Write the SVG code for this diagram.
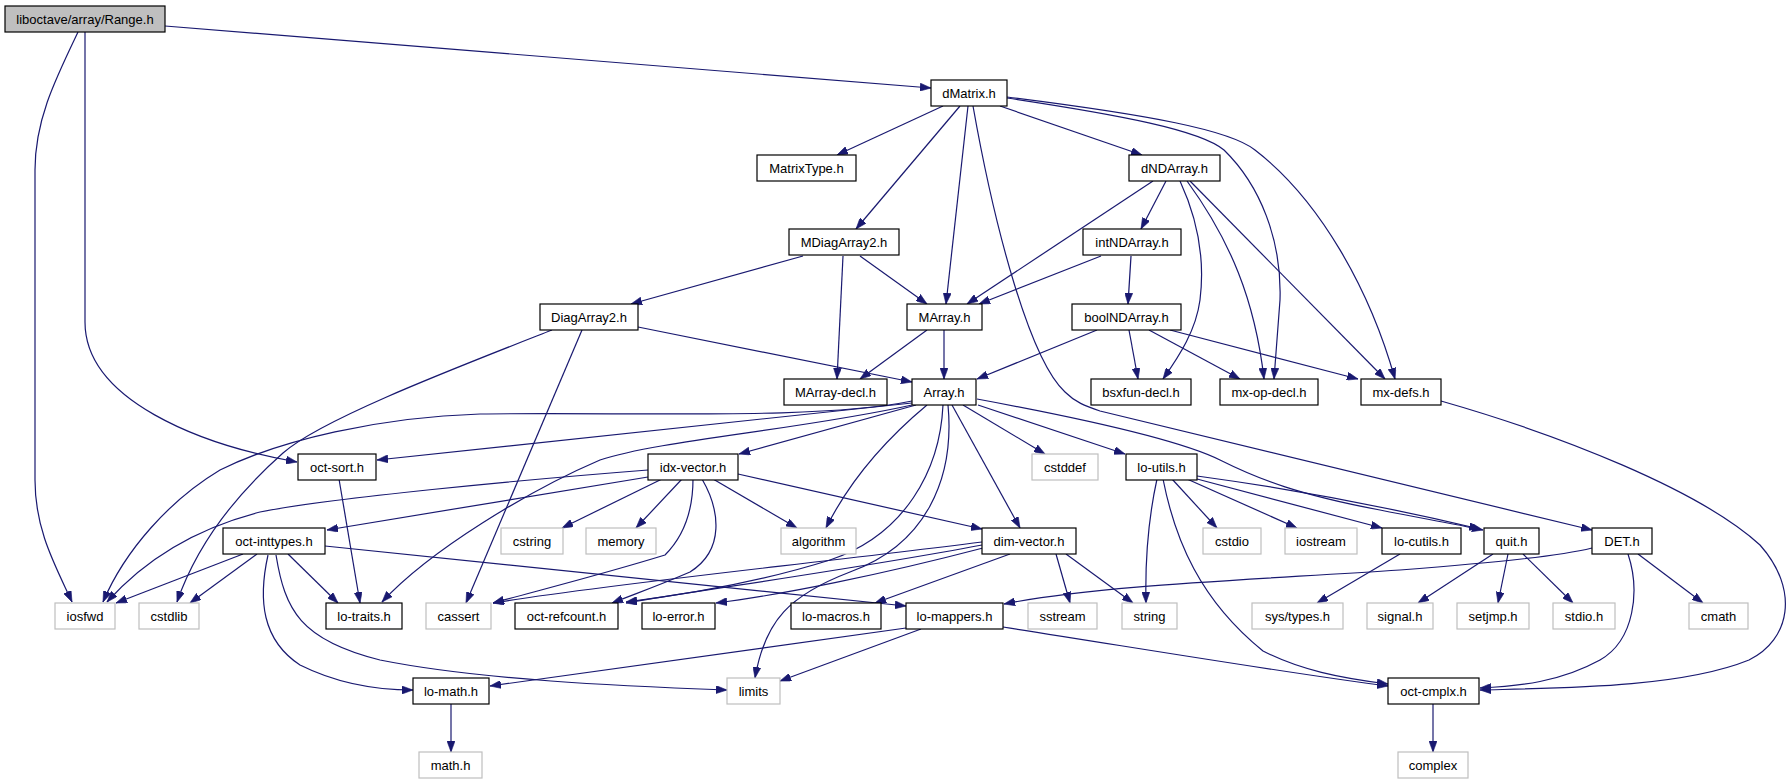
<svg xmlns="http://www.w3.org/2000/svg" width="1786" height="784" viewBox="0 0 1786 784">
<style>
.n rect{fill:#ffffff;stroke:#000000;stroke-width:1.2}
.g rect{fill:#ffffff;stroke:#bfbfbf;stroke-width:1.2}
.root rect{fill:#bfbfbf;stroke:#000000;stroke-width:1.2}
text{font-family:"Liberation Sans",Arial,Helvetica,sans-serif;font-size:13px;fill:#000000;text-anchor:middle}
#edges path{fill:none;stroke:#191970;stroke-width:1.2;marker-end:url(#ah)}
</style>
<defs>
<marker id="ah" markerUnits="userSpaceOnUse" markerWidth="11" markerHeight="8" refX="11" refY="4" orient="auto">
<path d="M0,0 L11,4 L0,8 z" fill="#191970" stroke="#191970" stroke-width="0.6"/>
</marker>
</defs>
<rect width="1786" height="784" fill="#ffffff"/>
<g id="edges">
<path d="M165,26 L931,88"/>
<path d="M85,32 L85,322 C85,400 200,445 297,462"/>
<path d="M78,32 C55,80 35,120 35,170 L35,480 C35,530 55,565 72,602"/>
<path d="M943,106 L837,155"/>
<path d="M960,106 L856,229"/>
<path d="M968,106 L946,304"/>
<path d="M973,106 C995,230 1030,360 1065,392 C1075,402 1085,406 1100,411 L1592,530"/>
<path d="M1000,106 L1142,155"/>
<path d="M1007,98 C1120,115 1200,130 1224,150 C1260,185 1282,240 1280,300 L1274,379"/>
<path d="M1007,97 C1150,115 1230,130 1255,150 C1320,200 1370,290 1395,379"/>
<path d="M1153,181 L967,304"/>
<path d="M1166,181 L1141,229"/>
<path d="M1180,181 C1198,220 1205,260 1200,300 C1196,330 1180,355 1163,379"/>
<path d="M1187,181 C1230,240 1255,300 1264,379"/>
<path d="M1190,181 L1385,379"/>
<path d="M803,256 L631,304"/>
<path d="M843,256 L837,379"/>
<path d="M860,256 L927,304"/>
<path d="M1101,256 L979,304"/>
<path d="M1131,256 L1128,304"/>
<path d="M638,327 L912,382"/>
<path d="M552,330 C450,370 320,420 283,453 C230,500 195,550 177,602"/>
<path d="M582,330 L466,603"/>
<path d="M927,330 L860,379"/>
<path d="M944,330 L944,379"/>
<path d="M1097,330 L977,379"/>
<path d="M1129,330 L1138,379"/>
<path d="M1149,330 L1240,379"/>
<path d="M1170,330 L1358,379"/>
<path d="M1441,401 C1560,435 1700,490 1760,545 C1800,590 1790,640 1749,660 C1680,688 1560,688 1480,690"/>
<path d="M912,401 C820,420 640,412 480,414 C380,417 280,440 220,470 C170,500 125,550 103,602"/>
<path d="M912,403 L377,460"/>
<path d="M912,405 C800,430 660,440 600,460 C530,490 430,550 382,602"/>
<path d="M916,405 L739,454"/>
<path d="M927,405 C885,440 850,480 826,528"/>
<path d="M943,405 C940,470 905,535 830,560 C760,582 690,594 626,602"/>
<path d="M948,405 C955,480 925,545 850,572 C790,595 765,620 755,678"/>
<path d="M952,405 L1020,528"/>
<path d="M963,405 L1045,454"/>
<path d="M978,405 L1125,454"/>
<path d="M977,399 C1080,418 1180,440 1220,460 C1260,480 1300,495 1380,510 C1420,518 1450,523 1483,530"/>
<path d="M648,470 C520,480 330,498 260,512 C190,530 140,565 107,602"/>
<path d="M648,477 L327,530"/>
<path d="M662,479 L562,528"/>
<path d="M682,479 L636,528"/>
<path d="M713,479 L797,528"/>
<path d="M738,474 L982,529"/>
<path d="M693,479 C693,510 685,535 665,555 C600,575 540,590 493,603"/>
<path d="M702,479 C720,510 725,550 690,572 C660,585 640,592 612,603"/>
<path d="M339,479 L360,603"/>
<path d="M243,554 L116,603"/>
<path d="M257,554 L190,603"/>
<path d="M288,554 L338,603"/>
<path d="M268,555 C258,600 262,640 300,665 C340,685 380,690 413,690"/>
<path d="M276,555 C285,610 300,640 380,660 C480,680 620,686 727,690"/>
<path d="M325,546 L906,606"/>
<path d="M982,542 C800,565 600,585 493,603"/>
<path d="M982,545 C850,570 700,590 626,603"/>
<path d="M983,548 C880,575 780,595 716,603"/>
<path d="M1010,554 L875,603"/>
<path d="M1056,554 L1070,603"/>
<path d="M1066,554 L1133,603"/>
<path d="M1157,479 C1148,520 1145,560 1146,603"/>
<path d="M1163,479 C1175,540 1200,600 1263,651 C1300,670 1340,678 1388,684"/>
<path d="M1172,479 L1217,528"/>
<path d="M1187,479 L1297,528"/>
<path d="M1197,479 L1382,528"/>
<path d="M1197,476 C1300,490 1400,510 1480,529"/>
<path d="M1400,554 L1317,603"/>
<path d="M1493,554 L1418,603"/>
<path d="M1508,554 L1498,603"/>
<path d="M1523,554 L1573,603"/>
<path d="M1592,548 C1560,556 1500,562 1400,570 C1250,580 1100,585 1004,604"/>
<path d="M1628,554 C1640,590 1635,640 1600,660 C1560,682 1520,686 1480,688"/>
<path d="M1638,554 L1703,603"/>
<path d="M906,628 C750,650 600,670 490,686"/>
<path d="M921,629 L780,681"/>
<path d="M1003,627 C1150,650 1300,675 1388,686"/>
<path d="M451,704 L451,752"/>
<path d="M1433,704 L1433,752"/>
</g>
<g id="n-range" class="root"><rect x="5" y="6" width="160" height="26"/><text x="85" y="23.5">liboctave/array/Range.h</text></g>
<g id="n-dmatrix" class="n"><rect x="931" y="80" width="76" height="26"/><text x="969" y="97.5">dMatrix.h</text></g>
<g id="n-matrixtype" class="n"><rect x="757" y="155" width="99" height="26"/><text x="806.5" y="172.5">MatrixType.h</text></g>
<g id="n-dndarray" class="n"><rect x="1129" y="155" width="91" height="26"/><text x="1174.5" y="172.5">dNDArray.h</text></g>
<g id="n-mdiagarray2" class="n"><rect x="789" y="229" width="110" height="26"/><text x="844" y="246.5">MDiagArray2.h</text></g>
<g id="n-intndarray" class="n"><rect x="1083" y="229" width="98" height="26"/><text x="1132" y="246.5">intNDArray.h</text></g>
<g id="n-diagarray2" class="n"><rect x="540" y="304" width="98" height="26"/><text x="589" y="321.5">DiagArray2.h</text></g>
<g id="n-marray" class="n"><rect x="907" y="304" width="75" height="26"/><text x="944.5" y="321.5">MArray.h</text></g>
<g id="n-boolndarray" class="n"><rect x="1072" y="304" width="109" height="26"/><text x="1126.5" y="321.5">boolNDArray.h</text></g>
<g id="n-marraydecl" class="n"><rect x="784" y="379" width="103" height="26"/><text x="835.5" y="396.5">MArray-decl.h</text></g>
<g id="n-array" class="n"><rect x="912" y="379" width="64" height="26"/><text x="944" y="396.5">Array.h</text></g>
<g id="n-bsxfundecl" class="n"><rect x="1091" y="379" width="100" height="26"/><text x="1141" y="396.5">bsxfun-decl.h</text></g>
<g id="n-mxopdecl" class="n"><rect x="1220" y="379" width="98" height="26"/><text x="1269" y="396.5">mx-op-decl.h</text></g>
<g id="n-mxdefs" class="n"><rect x="1361" y="379" width="80" height="26"/><text x="1401" y="396.5">mx-defs.h</text></g>
<g id="n-octsort" class="n"><rect x="298" y="454" width="78" height="26"/><text x="337" y="471.5">oct-sort.h</text></g>
<g id="n-idxvector" class="n"><rect x="648" y="454" width="90" height="26"/><text x="693" y="471.5">idx-vector.h</text></g>
<g id="n-cstddef" class="g"><rect x="1032" y="454" width="66" height="26"/><text x="1065" y="471.5">cstddef</text></g>
<g id="n-loutils" class="n"><rect x="1126" y="454" width="71" height="26"/><text x="1161.5" y="471.5">lo-utils.h</text></g>
<g id="n-octinttypes" class="n"><rect x="223" y="528" width="102" height="26"/><text x="274" y="545.5">oct-inttypes.h</text></g>
<g id="n-cstring" class="g"><rect x="501" y="528" width="62" height="26"/><text x="532" y="545.5">cstring</text></g>
<g id="n-memory" class="g"><rect x="586" y="528" width="70" height="26"/><text x="621" y="545.5">memory</text></g>
<g id="n-algorithm" class="g"><rect x="781" y="528" width="75" height="26"/><text x="818.5" y="545.5">algorithm</text></g>
<g id="n-dimvector" class="n"><rect x="982" y="528" width="94" height="26"/><text x="1029" y="545.5">dim-vector.h</text></g>
<g id="n-cstdio" class="g"><rect x="1203" y="528" width="58" height="26"/><text x="1232" y="545.5">cstdio</text></g>
<g id="n-iostream" class="g"><rect x="1285" y="528" width="72" height="26"/><text x="1321" y="545.5">iostream</text></g>
<g id="n-locutils" class="n"><rect x="1382" y="528" width="79" height="26"/><text x="1421.5" y="545.5">lo-cutils.h</text></g>
<g id="n-quit" class="n"><rect x="1484" y="528" width="55" height="26"/><text x="1511.5" y="545.5">quit.h</text></g>
<g id="n-det" class="n"><rect x="1592" y="528" width="60" height="26"/><text x="1622" y="545.5">DET.h</text></g>
<g id="n-iosfwd" class="g"><rect x="55" y="603" width="60" height="26"/><text x="85" y="620.5">iosfwd</text></g>
<g id="n-cstdlib" class="g"><rect x="139" y="603" width="60" height="26"/><text x="169" y="620.5">cstdlib</text></g>
<g id="n-lotraits" class="n"><rect x="326" y="603" width="76" height="26"/><text x="364" y="620.5">lo-traits.h</text></g>
<g id="n-cassert" class="g"><rect x="426" y="603" width="65" height="26"/><text x="458.5" y="620.5">cassert</text></g>
<g id="n-octrefcount" class="n"><rect x="515" y="603" width="103" height="26"/><text x="566.5" y="620.5">oct-refcount.h</text></g>
<g id="n-loerror" class="n"><rect x="642" y="603" width="73" height="26"/><text x="678.5" y="620.5">lo-error.h</text></g>
<g id="n-lomacros" class="n"><rect x="791" y="603" width="90" height="26"/><text x="836" y="620.5">lo-macros.h</text></g>
<g id="n-lomappers" class="n"><rect x="906" y="603" width="97" height="26"/><text x="954.5" y="620.5">lo-mappers.h</text></g>
<g id="n-sstream" class="g"><rect x="1028" y="603" width="69" height="26"/><text x="1062.5" y="620.5">sstream</text></g>
<g id="n-string" class="g"><rect x="1122" y="603" width="55" height="26"/><text x="1149.5" y="620.5">string</text></g>
<g id="n-systypes" class="g"><rect x="1252" y="603" width="91" height="26"/><text x="1297.5" y="620.5">sys/types.h</text></g>
<g id="n-signal" class="g"><rect x="1367" y="603" width="66" height="26"/><text x="1400" y="620.5">signal.h</text></g>
<g id="n-setjmp" class="g"><rect x="1457" y="603" width="72" height="26"/><text x="1493" y="620.5">setjmp.h</text></g>
<g id="n-stdio" class="g"><rect x="1553" y="603" width="62" height="26"/><text x="1584" y="620.5">stdio.h</text></g>
<g id="n-cmath" class="g"><rect x="1689" y="603" width="59" height="26"/><text x="1718.5" y="620.5">cmath</text></g>
<g id="n-lomath" class="n"><rect x="413" y="678" width="76" height="26"/><text x="451" y="695.5">lo-math.h</text></g>
<g id="n-limits" class="g"><rect x="727" y="678" width="53" height="26"/><text x="753.5" y="695.5">limits</text></g>
<g id="n-octcmplx" class="n"><rect x="1388" y="678" width="91" height="26"/><text x="1433.5" y="695.5">oct-cmplx.h</text></g>
<g id="n-math" class="g"><rect x="419" y="752" width="63" height="26"/><text x="450.5" y="769.5">math.h</text></g>
<g id="n-complex" class="g"><rect x="1398" y="752" width="70" height="26"/><text x="1433" y="769.5">complex</text></g>
</svg>
